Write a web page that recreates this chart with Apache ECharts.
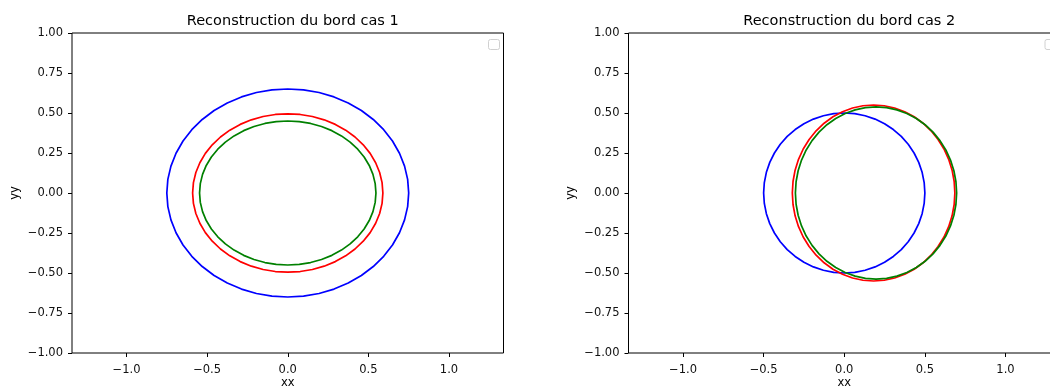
<!DOCTYPE html>
<html>
<head>
<meta charset="utf-8">
<script src="https://cdn.jsdelivr.net/npm/echarts@6/dist/echarts.min.js"></script>
<style>
html,body{margin:0;padding:0;background:#fff;}
#chart{width:1050px;height:390px;}
</style>
</head>
<body>
<div id="chart"></div>
<script>
// ---- Data ----
const titles = ['Reconstruction du bord cas 1', 'Reconstruction du bord cas 2'];
const xTicks = [-1.0, -0.5, 0.0, 0.5, 1.0];
const yTicks = [-1.0, -0.75, -0.5, -0.25, 0.0, 0.25, 0.5, 0.75, 1.0];
const xLimit = [-1.338, 1.338];
const yLimit = [-1, 1];

// Case 1 curves (boundary points, counter-clockwise)
const case1Blue = [[0.75,0],[0.7436,0.0848],[0.7244,0.1682],[0.6929,0.2487],[0.6495,0.325],[0.595,0.3957],[0.5303,0.4596],[0.4566,0.5157],[0.375,0.5629],[0.287,0.6005],[0.1941,0.6279],[0.0979,0.6444],[0,0.65],
  [-0.0979,0.6444],[-0.1941,0.6279],[-0.287,0.6005],[-0.375,0.5629],[-0.4566,0.5157],[-0.5303,0.4596],[-0.595,0.3957],[-0.6495,0.325],[-0.6929,0.2487],[-0.7244,0.1682],[-0.7436,0.0848],[-0.75,0],
  [-0.7436,-0.0848],[-0.7244,-0.1682],[-0.6929,-0.2487],[-0.6495,-0.325],[-0.595,-0.3957],[-0.5303,-0.4596],[-0.4566,-0.5157],[-0.375,-0.5629],[-0.287,-0.6005],[-0.1941,-0.6279],[-0.0979,-0.6444],[0,-0.65],
  [0.0979,-0.6444],[0.1941,-0.6279],[0.287,-0.6005],[0.375,-0.5629],[0.4566,-0.5157],[0.5303,-0.4596],[0.595,-0.3957],[0.6495,-0.325],[0.6929,-0.2487],[0.7244,-0.1682],[0.7436,-0.0848],[0.75,0]];
const case1Red = [[0.59,0],[0.585,0.0646],[0.5699,0.1281],[0.5451,0.1894],[0.511,0.2475],[0.4681,0.3013],[0.4172,0.35],[0.3592,0.3927],[0.295,0.4287],[0.2258,0.4573],[0.1527,0.4781],[0.077,0.4908],[0,0.495],
  [-0.077,0.4908],[-0.1527,0.4781],[-0.2258,0.4573],[-0.295,0.4287],[-0.3592,0.3927],[-0.4172,0.35],[-0.4681,0.3013],[-0.511,0.2475],[-0.5451,0.1894],[-0.5699,0.1281],[-0.585,0.0646],[-0.59,0],
  [-0.585,-0.0646],[-0.5699,-0.1281],[-0.5451,-0.1894],[-0.511,-0.2475],[-0.4681,-0.3013],[-0.4172,-0.35],[-0.3592,-0.3927],[-0.295,-0.4287],[-0.2258,-0.4573],[-0.1527,-0.4781],[-0.077,-0.4908],[0,-0.495],
  [0.077,-0.4908],[0.1527,-0.4781],[0.2258,-0.4573],[0.295,-0.4287],[0.3592,-0.3927],[0.4172,-0.35],[0.4681,-0.3013],[0.511,-0.2475],[0.5451,-0.1894],[0.5699,-0.1281],[0.585,-0.0646],[0.59,0]];
const case1Green = [[0.547,0],[0.5423,0.0587],[0.5284,0.1165],[0.5054,0.1722],[0.4737,0.225],[0.434,0.2739],[0.3868,0.3182],[0.333,0.357],[0.2735,0.3897],[0.2093,0.4157],[0.1416,0.4347],[0.0714,0.4461],[0,0.45],
  [-0.0714,0.4461],[-0.1416,0.4347],[-0.2093,0.4157],[-0.2735,0.3897],[-0.333,0.357],[-0.3868,0.3182],[-0.434,0.2739],[-0.4737,0.225],[-0.5054,0.1722],[-0.5284,0.1165],[-0.5423,0.0587],[-0.547,0],
  [-0.5423,-0.0587],[-0.5284,-0.1165],[-0.5054,-0.1722],[-0.4737,-0.225],[-0.434,-0.2739],[-0.3868,-0.3182],[-0.333,-0.357],[-0.2735,-0.3897],[-0.2093,-0.4157],[-0.1416,-0.4347],[-0.0714,-0.4461],[0,-0.45],
  [0.0714,-0.4461],[0.1416,-0.4347],[0.2093,-0.4157],[0.2735,-0.3897],[0.333,-0.357],[0.3868,-0.3182],[0.434,-0.2739],[0.4737,-0.225],[0.5054,-0.1722],[0.5284,-0.1165],[0.5423,-0.0587],[0.547,0]];

// Case 2 curves
const case2Blue = [[0.5,0],[0.4957,0.0653],[0.483,0.1294],[0.4619,0.1913],[0.433,0.25],[0.3967,0.3044],[0.3536,0.3536],[0.3044,0.3967],[0.25,0.433],[0.1913,0.4619],[0.1294,0.483],[0.0653,0.4957],[0,0.5],
  [-0.0653,0.4957],[-0.1294,0.483],[-0.1913,0.4619],[-0.25,0.433],[-0.3044,0.3967],[-0.3536,0.3536],[-0.3967,0.3044],[-0.433,0.25],[-0.4619,0.1913],[-0.483,0.1294],[-0.4957,0.0653],[-0.5,0],
  [-0.4957,-0.0653],[-0.483,-0.1294],[-0.4619,-0.1913],[-0.433,-0.25],[-0.3967,-0.3044],[-0.3536,-0.3536],[-0.3044,-0.3967],[-0.25,-0.433],[-0.1913,-0.4619],[-0.1294,-0.483],[-0.0653,-0.4957],[0,-0.5],
  [0.0653,-0.4957],[0.1294,-0.483],[0.1913,-0.4619],[0.25,-0.433],[0.3044,-0.3967],[0.3536,-0.3536],[0.3967,-0.3044],[0.433,-0.25],[0.4619,-0.1913],[0.483,-0.1294],[0.4957,-0.0653],[0.5,0]];
const case2Red = [[0.686,0],[0.6817,0.0718],[0.6688,0.1424],[0.6476,0.2105],[0.6185,0.275],[0.5818,0.3348],[0.5384,0.3889],[0.4888,0.4363],[0.434,0.4763],[0.3749,0.5081],[0.3124,0.5313],[0.2478,0.5453],[0.182,0.55],
  [0.1162,0.5453],[0.0516,0.5313],[-0.0109,0.5081],[-0.07,0.4763],[-0.1248,0.4363],[-0.1744,0.3889],[-0.2178,0.3348],[-0.2545,0.275],[-0.2836,0.2105],[-0.3048,0.1424],[-0.3177,0.0718],[-0.322,0],
  [-0.3177,-0.0718],[-0.3048,-0.1424],[-0.2836,-0.2105],[-0.2545,-0.275],[-0.2178,-0.3348],[-0.1744,-0.3889],[-0.1248,-0.4363],[-0.07,-0.4763],[-0.0109,-0.5081],[0.0516,-0.5313],[0.1162,-0.5453],[0.182,-0.55],
  [0.2478,-0.5453],[0.3124,-0.5313],[0.3749,-0.5081],[0.434,-0.4763],[0.4888,-0.4363],[0.5384,-0.3889],[0.5818,-0.3348],[0.6185,-0.275],[0.6476,-0.2105],[0.6688,-0.1424],[0.6817,-0.0718],[0.686,0]];
const case2Green = [[0.697,0],[0.6927,0.0702],[0.68,0.1392],[0.6589,0.2059],[0.63,0.269],[0.5937,0.3275],[0.5506,0.3804],[0.5014,0.4268],[0.447,0.4659],[0.3883,0.497],[0.3264,0.5197],[0.2623,0.5334],[0.197,0.538],
  [0.1317,0.5334],[0.0676,0.5197],[0.0057,0.497],[-0.053,0.4659],[-0.1074,0.4268],[-0.1566,0.3804],[-0.1997,0.3275],[-0.236,0.269],[-0.2649,0.2059],[-0.286,0.1392],[-0.2987,0.0702],[-0.303,0],
  [-0.2987,-0.0702],[-0.286,-0.1392],[-0.2649,-0.2059],[-0.236,-0.269],[-0.1997,-0.3275],[-0.1566,-0.3804],[-0.1074,-0.4268],[-0.053,-0.4659],[0.0057,-0.497],[0.0676,-0.5197],[0.1317,-0.5334],[0.197,-0.538],
  [0.2623,-0.5334],[0.3264,-0.5197],[0.3883,-0.497],[0.447,-0.4659],[0.5014,-0.4268],[0.5506,-0.3804],[0.5937,-0.3275],[0.63,-0.269],[0.6589,-0.2059],[0.68,-0.1392],[0.6927,-0.0702],[0.697,0]];

const curveColors = ['#0000ff', '#ff0000', '#008000'];
const casesData = [[case1Blue, case1Red, case1Green], [case2Blue, case2Red, case2Green]];

// ---- Layout ----
const FONT = "'DejaVu Sans', sans-serif";
const gridLefts = [72, 628.5];
const gridTop = 33, gridW = 431.5, gridH = 320;

function fmt(v, d) {
  const s = Math.abs(v).toFixed(d);
  return (v < -1e-9 ? '\u2212' : '') + s;
}

const chart = echarts.init(document.getElementById('chart'), null, {renderer: 'canvas'});

const grids = [], xAxes = [], yAxes = [], series = [], titleArr = [], graphics = [];
for (let i = 0; i < 2; i++) {
  grids.push({left: gridLefts[i], top: gridTop, width: gridW, height: gridH,
    outerBoundsMode: 'none', containLabel: false,
    show: true, borderColor: '#000', borderWidth: 1, backgroundColor: 'transparent'});
  titleArr.push({text: titles[i], left: gridLefts[i] + gridW / 2, top: 9, textAlign: 'center',
    textStyle: {fontFamily: FONT, fontSize: 14.5, fontWeight: 'normal', color: '#000'}});
  xAxes.push({type: 'value', gridIndex: i, min: xLimit[0], max: xLimit[1], position: 'bottom',
    name: 'xx', nameLocation: 'middle', nameGap: 24.5, nameMoveOverlap: false,
    nameTextStyle: {fontFamily: FONT, fontSize: 11.5, color: '#000'},
    axisLine: {show: false, onZero: false}, splitLine: {show: false},
    axisTick: {show: true, length: 4, customValues: xTicks, lineStyle: {color: '#000', width: 1}},
    axisLabel: {customValues: xTicks, margin: 11.5, fontFamily: FONT, fontSize: 11.5, color: '#111',
      formatter: v => fmt(v, 1)}});
  yAxes.push({type: 'value', gridIndex: i, min: yLimit[0], max: yLimit[1], interval: 0.25, position: 'left',
    name: 'yy', nameLocation: 'middle', nameGap: 51, nameRotate: 90, nameMoveOverlap: false,
    nameTextStyle: {fontFamily: FONT, fontSize: 11.5, color: '#000'},
    axisLine: {show: false, onZero: false}, splitLine: {show: false},
    axisTick: {show: true, length: 4, lineStyle: {color: '#000', width: 1}},
    axisLabel: {margin: 9, fontFamily: FONT, fontSize: 11.5, color: '#111',
      showMinLabel: true, showMaxLabel: true, formatter: v => fmt(v, 2)}});
  casesData[i].forEach((pts, k) => {
    series.push({type: 'line', xAxisIndex: i, yAxisIndex: i, data: pts,
      smooth: false, showSymbol: false, symbol: 'none', silent: true, animation: false,
      lineStyle: {color: curveColors[k], width: 1.7, join: 'round'}, itemStyle: {color: curveColors[k]}, z: 2 + k});
  });
  // empty legend frame in the upper-right corner
  graphics.push({type: 'rect', left: gridLefts[i] + gridW - 15.5, top: 39,
    shape: {width: 11, height: 10, r: 2},
    style: {fill: '#fff', stroke: '#d0d0d0', lineWidth: 1}, z: 10});
}

chart.setOption({
  animation: false,
  backgroundColor: '#fff',
  title: titleArr,
  grid: grids,
  xAxis: xAxes,
  yAxis: yAxes,
  series: series,
  graphic: graphics
});
</script>
</body>
</html>
